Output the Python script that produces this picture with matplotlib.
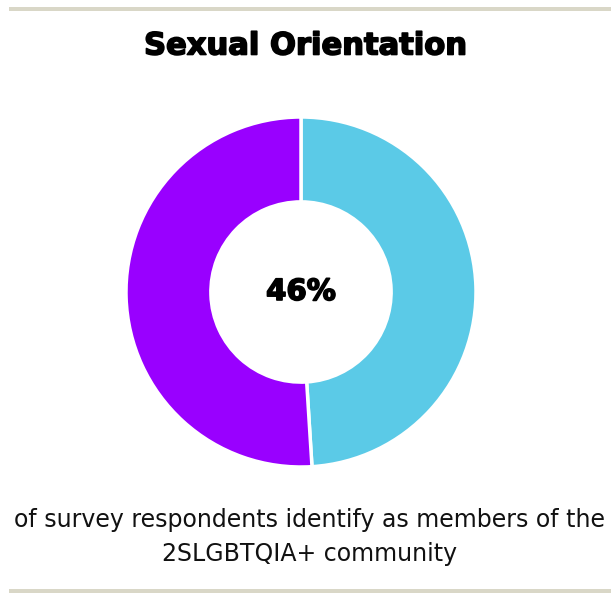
import matplotlib
matplotlib.use("Agg")
import matplotlib.pyplot as plt
from matplotlib.patches import Rectangle
import matplotlib.patheffects as pe

W, H = 611, 593
DPI = 100

# Data
labels = ["2SLGBTQIA+", "Other"]
values = [49, 51]
colors = ["#5BCAE7", "#9900FF"]
headline = "46%"
title = "Sexual Orientation"
caption = "of survey respondents identify as members of the\n2SLGBTQIA+ community"

fig = plt.figure(figsize=(W / DPI, H / DPI), dpi=DPI)
fig.patch.set_facecolor("white")

# Decorative rules at top and bottom
rule_color = "#D9D7C7"
fig.add_artist(Rectangle((9 / W, (H - 11) / H), 1, 4 / H, transform=fig.transFigure,
                         color=rule_color, lw=0))
fig.add_artist(Rectangle((9 / W, 0), 1, 4 / H, transform=fig.transFigure,
                         color=rule_color, lw=0))

# Donut
cx, cy, r = 301, 292, 175
ax = fig.add_axes([(cx - r) / W, (H - cy - r) / H, 2 * r / W, 2 * r / H])
ax.pie(values, colors=colors, startangle=90, counterclock=False, radius=1,
       wedgeprops=dict(width=0.485, edgecolor="white", linewidth=2.5))
ax.set_xlim(-1, 1)
ax.set_ylim(-1, 1)
ax.set_aspect("equal")
ax.axis("off")

bold_fx = [pe.withStroke(linewidth=1.2, foreground="black")]
ax.text(0, 0, headline, ha="center", va="center", fontsize=21,
        fontweight="heavy", family="DejaVu Sans", color="black",
        path_effects=bold_fx)

fig.text(305 / W, (H - 46) / H, title, ha="center", va="center", fontsize=22,
         fontweight="heavy", family="DejaVu Sans", color="black",
         path_effects=bold_fx)
fig.text(310 / W, (H - 537) / H, caption, ha="center", va="center", fontsize=17,
         family="DejaVu Sans", color="#111111", linespacing=1.55)

fig.savefig("out.png", dpi=DPI, facecolor="white")
